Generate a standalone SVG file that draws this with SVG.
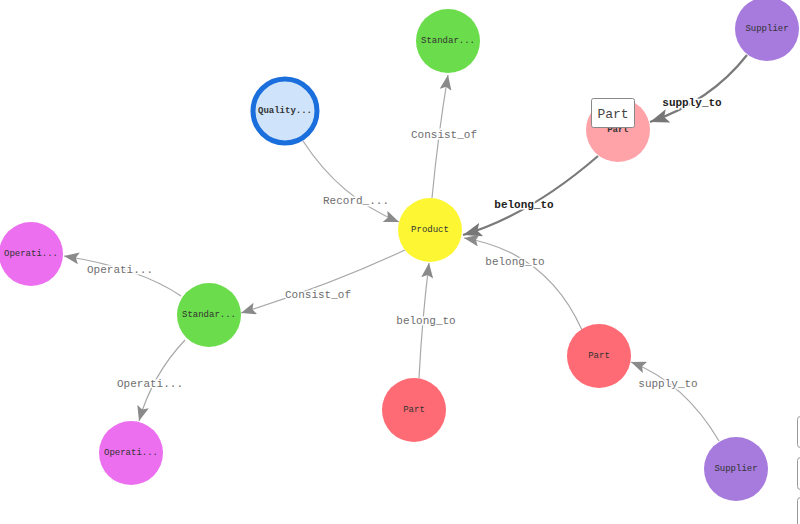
<svg xmlns="http://www.w3.org/2000/svg" width="800" height="524" viewBox="0 0 800 524">
<defs>
<style>
.n{stroke:none}
.nl{font-family:"Liberation Mono",monospace;font-size:9px;fill:#333;text-anchor:middle;dominant-baseline:central}
.e{fill:none;stroke:#a8a8a8;stroke-width:1.2}
.eh{fill:none;stroke:#7a7a7a;stroke-width:2.2}
.el{font-family:"Liberation Mono",monospace;font-size:11px;fill:#6e6e6e;text-anchor:middle;dominant-baseline:central;stroke:#fff;stroke-width:3;paint-order:stroke}
.elh{font-family:"Liberation Mono",monospace;font-size:11px;font-weight:bold;fill:#222;text-anchor:middle;dominant-baseline:central;stroke:#fff;stroke-width:3;paint-order:stroke}
</style>
<marker id="a" markerUnits="userSpaceOnUse" markerWidth="16" markerHeight="12" viewBox="0 0 16 12" refX="15" refY="6" orient="auto"><path d="M0,0 L15,6 L0,12 L3,6 Z" fill="#8a8a8a"/></marker>
<marker id="ah" markerUnits="userSpaceOnUse" markerWidth="20" markerHeight="14" viewBox="0 0 20 14" refX="19" refY="7" orient="auto"><path d="M0,0 L19,7 L0,14 L4,7 Z" fill="#777"/></marker>
</defs>
<rect width="800" height="524" fill="#fff"/>
<g id="connectors">
<path class="e" d="M432,198 Q438,135 448,75" marker-end="url(#a)"/>
<text class="el" x="444" y="135">Consist_of</text>
<path class="e" d="M303,141 Q340,198 399,222" marker-end="url(#a)"/>
<text class="el" x="356" y="201">Record_...</text>
<path class="eh" d="M598,156 Q530,215 463,235" marker-end="url(#ah)"/>
<text class="elh" x="524" y="205">belong_to</text>
<path class="eh" d="M747,55 Q711,101 650,122" marker-end="url(#ah)"/>
<text class="elh" x="692" y="103">supply_to</text>
<path class="e" d="M405,250 Q330,285 241,313" marker-end="url(#a)"/>
<text class="el" x="318" y="295">Consist_of</text>
<path class="e" d="M181,296 Q140,268 64,256" marker-end="url(#a)"/>
<text class="el" x="120" y="270">Operati...</text>
<path class="e" d="M185,340 Q152,375 139,421" marker-end="url(#a)"/>
<text class="el" x="150" y="384">Operati...</text>
<path class="e" d="M419,378 Q422,320 429,263" marker-end="url(#a)"/>
<text class="el" x="426" y="321">belong_to</text>
<path class="e" d="M582,330 Q547,252 464,238" marker-end="url(#a)"/>
<text class="el" x="515" y="262">belong_to</text>
<path class="e" d="M719,441 Q685,383 631,362" marker-end="url(#a)"/>
<text class="el" x="668" y="384">supply_to</text>
</g>
<g id="node-product"><circle class="n" cx="430" cy="230" r="32" fill="#fdf733"/><text class="nl" x="430" y="230">Product</text></g>
<g id="node-standard-top"><circle class="n" cx="448" cy="41" r="32" fill="#6bdc4b"/><text class="nl" x="448" y="41">Standar...</text></g>
<g id="node-quality"><circle cx="285" cy="111" r="32" fill="#cfe4fa" stroke="#1b6fdd" stroke-width="5"/><text class="nl" x="285" y="111" font-weight="bold" fill="#111">Quality...</text></g>
<g id="node-supplier-top"><circle class="n" cx="767" cy="29" r="32" fill="#a77bdd"/><text class="nl" x="767" y="29">Supplier</text></g>
<g id="node-part-hover"><circle class="n" cx="618" cy="130" r="32" fill="#ffa3a8"/><text class="nl" x="618" y="130" font-weight="bold" fill="#111">Part</text></g>
<g id="node-operation-left"><circle class="n" cx="31" cy="254" r="32" fill="#eb6fee"/><text class="nl" x="31" y="254">Operati...</text></g>
<g id="node-standard-mid"><circle class="n" cx="209" cy="315" r="32" fill="#6bdc4b"/><text class="nl" x="209" y="315">Standar...</text></g>
<g id="node-operation-bottom"><circle class="n" cx="131" cy="453" r="32" fill="#eb6fee"/><text class="nl" x="131" y="453">Operati...</text></g>
<g id="node-part-bottom"><circle class="n" cx="414" cy="410" r="32" fill="#ff6b74"/><text class="nl" x="414" y="410">Part</text></g>
<g id="node-part-right"><circle class="n" cx="599" cy="356" r="32" fill="#ff6b74"/><text class="nl" x="599" y="356">Part</text></g>
<g id="node-supplier-bottom"><circle class="n" cx="736" cy="469" r="32" fill="#a77bdd"/><text class="nl" x="736" y="469">Supplier</text></g>
<g id="tooltip"><rect x="591.5" y="98.5" width="43" height="29" rx="2" fill="#fff" stroke="#888" stroke-width="1"/><text x="613" y="114" font-family="Liberation Mono, monospace" font-size="13" fill="#444" text-anchor="middle" dominant-baseline="central">Part</text></g>
<g id="controls" fill="#fff" stroke="#999" stroke-width="1">
<rect x="797.5" y="416.5" width="30" height="31" rx="3"/>
<rect x="797.5" y="457.5" width="30" height="32" rx="3"/>
<rect x="797.5" y="497.5" width="30" height="32" rx="3"/>
</g>
</svg>
